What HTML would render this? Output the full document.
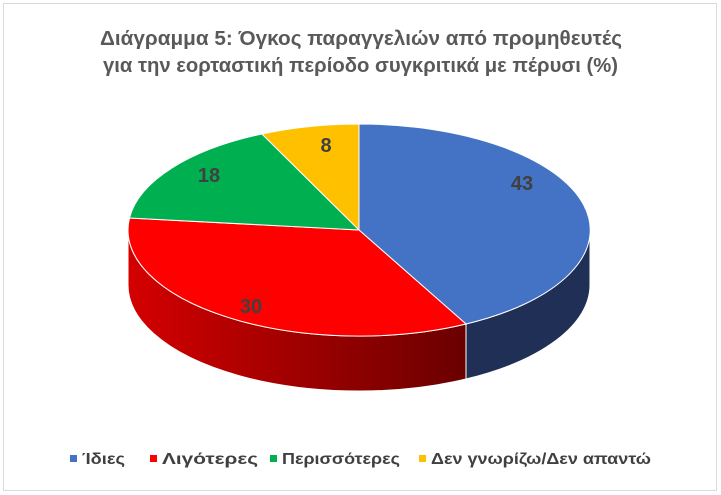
<!DOCTYPE html>
<html><head><meta charset="utf-8"><style>
body{margin:0;background:#fff;}
svg{display:block;font-family:"Liberation Sans","DejaVu Sans",sans-serif;}
</style></head><body>
<svg width="721" height="495" viewBox="0 0 721 495">
<defs>
<linearGradient id="rg" x1="0" x2="1" y1="0" y2="0">
<stop offset="0" stop-color="#d40000"/><stop offset="1" stop-color="#6a0000"/></linearGradient>
</defs>
<rect x="3.5" y="3.5" width="713" height="487" fill="#fff" stroke="#d9d9d9"/>
<text x="100" y="45" font-size="20" font-weight="bold" fill="#595959" textLength="522" lengthAdjust="spacingAndGlyphs">Διάγραμμα 5: Όγκος παραγγελιών από προμηθευτές</text>
<text x="103" y="72" font-size="20" font-weight="bold" fill="#595959" textLength="515" lengthAdjust="spacingAndGlyphs">για την εορταστική περίοδο συγκριτικά με πέρυσι (%)</text>
<!-- sides -->
<path d="M590,230 A231,106 0 0 1 466,324 L466,379 A231,106 0 0 0 590,285 Z" fill="#1f2f55" stroke="#fff" stroke-width="1"/>
<path d="M466,324 A231,106 0 0 1 128,230 L128,285 A231,106 0 0 0 466,379 Z" fill="url(#rg)" stroke="#fff" stroke-width="1"/>
<!-- top -->
<path d="M359,230 L359,124 A231,106 0 0 1 466,324 Z" fill="#4472c4" stroke="#fff" stroke-width="1"/>
<path d="M359,230 L466,324 A231,106 0 0 1 129.5,218 Z" fill="#ff0000" stroke="#fff" stroke-width="1"/>
<path d="M359,230 L129.5,218 A231,106 0 0 1 262,134 Z" fill="#00b050" stroke="#fff" stroke-width="1"/>
<path d="M359,230 L262,134 A231,106 0 0 1 359,124 Z" fill="#ffc000" stroke="#fff" stroke-width="1"/>
<g font-size="20" font-weight="bold" fill="#404040" text-anchor="middle">
<text x="522" y="190">43</text>
<text x="251" y="313">30</text>
<text x="209" y="182">18</text>
<text x="326" y="152">8</text>
</g>
<g font-size="16" font-weight="bold" fill="#404040">
<rect x="70" y="455" width="7" height="7" fill="#4472c4"/><text x="82" y="464" textLength="43" lengthAdjust="spacingAndGlyphs">Ίδιες</text>
<rect x="150" y="455" width="7" height="7" fill="#ff0000"/><text x="162" y="464" textLength="96" lengthAdjust="spacingAndGlyphs">Λιγότερες</text>
<rect x="270" y="455" width="7" height="7" fill="#00b050"/><text x="282" y="464" textLength="118" lengthAdjust="spacingAndGlyphs">Περισσότερες</text>
<rect x="419" y="455" width="7" height="7" fill="#ffc000"/><text x="431" y="464" textLength="220" lengthAdjust="spacingAndGlyphs">Δεν γνωρίζω/Δεν απαντώ</text>
</g>
</svg>
</body></html>
